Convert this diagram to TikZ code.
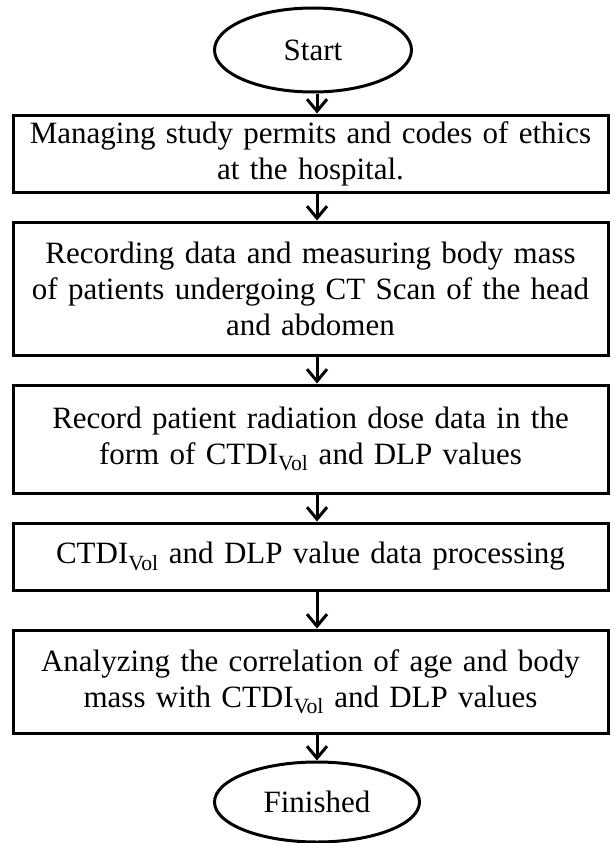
\documentclass[tikz,border=0pt]{standalone}
\usepackage{fontspec}
\setmainfont{Liberation Serif}
\usetikzlibrary{shapes.geometric,arrows.meta}
\tikzset{
  stepbox/.style={draw, line width=3pt, rectangle, minimum width=595pt,
    text width=585pt, align=center, inner sep=0pt, font=\fontsize{31}{36}\selectfont},
  terminal/.style={draw, line width=3pt, ellipse, inner sep=0pt,
    font=\fontsize{31}{36}\selectfont},
  flow/.style={line width=3pt, -{Straight Barb[length=12pt,width=20pt,line width=3pt]}}
}
\newcommand{\vol}{CTDI\textsubscript{Vol}}
\begin{document}
\begin{tikzpicture}[x=1pt,y=-1pt]
\useasboundingbox (0,0) rectangle (613,843);
\node[terminal, minimum width=197pt, minimum height=84pt] (start) at (313,50) {Start};
\node[stepbox, minimum height=77pt] (s1) at (310.5,153.5)
  {Managing study permits and codes of ethics\\at the hospital.};
\node[stepbox, minimum height=133pt] (s2) at (310.5,288.5)
  {Recording data and measuring body mass\\of patients undergoing CT Scan of the head\\and abdomen};
\node[stepbox, minimum height=108pt] (s3) at (310.5,439)
  {Record patient radiation dose data in the\\form of \vol{} and DLP values};
\node[stepbox, minimum height=67pt] (s4) at (310.5,556.5)
  {\vol{} and DLP value data processing};
\node[stepbox, minimum height=103pt] (s5) at (310.5,681.5)
  {Analyzing the correlation of age and body\\mass with \vol{} and DLP values};
\node[terminal, minimum width=205pt, minimum height=80pt] (end) at (317,802) {Finished};
\draw[flow] (start.south -| 317,0) -- (s1.north -| 317,0);
\draw[flow] (s1.south -| 317,0) -- (s2.north -| 317,0);
\draw[flow] (s2.south -| 317,0) -- (s3.north -| 317,0);
\draw[flow] (s3.south -| 317,0) -- (s4.north -| 317,0);
\draw[flow] (s4.south -| 317,0) -- (s5.north -| 317,0);
\draw[flow] (s5.south -| 317,0) -- (end.north);
\end{tikzpicture}
\end{document}
